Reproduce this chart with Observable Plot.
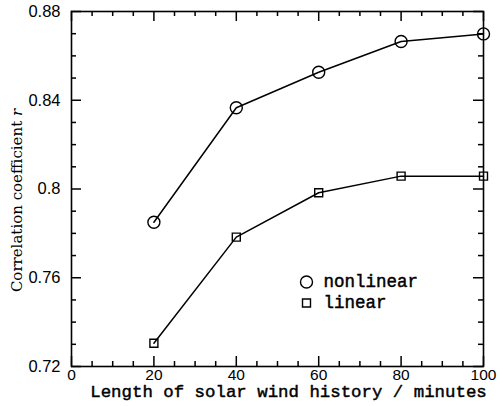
<!DOCTYPE html>
<html>
<head>
<meta charset="utf-8">
<style>
  html, body { margin: 0; padding: 0; background: #fff; }
  #chart svg { display: block; }
</style>
<script src="https://cdn.jsdelivr.net/npm/d3@7"></script>
<script src="https://cdn.jsdelivr.net/npm/@observablehq/plot@0.6"></script>
</head>
<body>
<div id="chart"></div>
<script>
// ---- data ----
const historyMinutes = [20, 40, 60, 80, 100];
const nonlinearR = [0.785, 0.8366, 0.8526, 0.8665, 0.8699];
const linearR = [0.7305, 0.7783, 0.7983, 0.8058, 0.8058];
const seriesNames = ["nonlinear", "linear"];
const xTicks = [0, 20, 40, 60, 80, 100];
const xMinorTicks = [5, 10, 15, 25, 30, 35, 45, 50, 55, 65, 70, 75, 85, 90, 95];
const yTicks = [0.72, 0.76, 0.80, 0.84, 0.88];
const yTickLabels = ["0.72", "0.76", "0.8", "0.84", "0.88"];
const yMinorTicks = [0.73, 0.74, 0.75, 0.77, 0.78, 0.79, 0.81, 0.82, 0.83, 0.85, 0.86, 0.87];
const xTitle = "Length of solar wind history / minutes";
const yTitle = "Correlation coefficient";
const yTitleVar = "r";

// ---- layout ----
const W = 500, H = 406;
const mL = 71, mR = 17, mT = 11, mB = 40;
const fw = W - mL - mR, fh = H - mT - mB;
const major = 10, minor = 5;
const mono = "'Liberation Mono', 'DejaVu Sans Mono', monospace";
const monoText = {fontFamily: mono, fontSize: 17.5, fill: "black", stroke: "black", strokeWidth: 0.45};

const nonRows = historyMinutes.map((m, i) => ({minutes: m, r: nonlinearR[i], series: seriesNames[0]}));
const linRows = historyMinutes.map((m, i) => ({minutes: m, r: linearR[i], series: seriesNames[1]}));
const rows = nonRows.concat(linRows);

const tickStyle = {stroke: "black", strokeWidth: 1.5};

const chart = Plot.plot({
  width: W, height: H,
  marginLeft: mL, marginRight: mR, marginTop: mT, marginBottom: mB,
  style: {fontFamily: "'Liberation Sans', Arial, sans-serif", fontSize: "16px", background: "white", color: "black"},
  x: {domain: [0, 100]},
  y: {domain: [0.72, 0.88]},
  marks: [
    Plot.axisX({ticks: xTicks, tickSize: 0, tickPadding: 2.5, label: null, fontSize: 15.5, tickFormat: d => String(d)}),
    Plot.axisY({ticks: yTicks, tickSize: 0, tickPadding: 11, label: null, fontSize: 16.5,
      tickFormat: d => yTickLabels[yTicks.findIndex(v => Math.abs(v - d) < 1e-9)]}),
    // inward ticks on all four sides
    Plot.ruleX(xTicks, {x: d => d, insetTop: fh - major, ...tickStyle}),
    Plot.ruleX(xMinorTicks, {x: d => d, insetTop: fh - minor, ...tickStyle}),
    Plot.ruleX(xTicks, {x: d => d, insetBottom: fh - major, ...tickStyle}),
    Plot.ruleX(xMinorTicks, {x: d => d, insetBottom: fh - minor, ...tickStyle}),
    Plot.ruleY(yTicks, {y: d => d, insetRight: fw - major, ...tickStyle}),
    Plot.ruleY(yMinorTicks, {y: d => d, insetRight: fw - minor, ...tickStyle}),
    Plot.ruleY(yTicks, {y: d => d, insetLeft: fw - major, ...tickStyle}),
    Plot.ruleY(yMinorTicks, {y: d => d, insetLeft: fw - minor, ...tickStyle}),
    Plot.frame({stroke: "black", strokeWidth: 1.6}),
    // data
    Plot.line(rows, {x: "minutes", y: "r", z: "series", stroke: "black", strokeWidth: 1.5}),
    Plot.dot(nonRows, {x: "minutes", y: "r", symbol: "circle", r: 6, stroke: "black", strokeWidth: 1.4, fill: "none"}),
    Plot.dot(linRows, {x: "minutes", y: "r", symbol: "square", r: 4.5, stroke: "black", strokeWidth: 1.4, fill: "none"}),
    // legend
    Plot.dot([seriesNames[0]], {frameAnchor: "bottom-left", dx: 235, dy: -84.5, symbol: "circle", r: 6, stroke: "black", strokeWidth: 1.4, fill: "none"}),
    Plot.dot([seriesNames[1]], {frameAnchor: "bottom-left", dx: 235, dy: -63.5, symbol: "square", r: 4.5, stroke: "black", strokeWidth: 1.4, fill: "none"}),
    Plot.text([seriesNames[0]], {frameAnchor: "bottom-left", dx: 252, dy: -85, text: d => d, textAnchor: "start", lineAnchor: "middle", ...monoText}),
    Plot.text([seriesNames[1]], {frameAnchor: "bottom-left", dx: 252, dy: -64, text: d => d, textAnchor: "start", lineAnchor: "middle", ...monoText}),
    // axis titles
    Plot.text([xTitle], {frameAnchor: "bottom", dx: 11, dy: 25, text: d => d, textAnchor: "middle", lineAnchor: "middle", ...monoText, fontSize: 17.4}),
    Plot.text([yTitle + " " + yTitleVar], {frameAnchor: "left", dx: -54, dy: 11.5, rotate: -90, text: d => d, textAnchor: "middle", lineAnchor: "middle", fontFamily: "'DejaVu Serif', serif", fontSize: 15, fill: "black"})
  ]
});

document.getElementById("chart").appendChild(chart);

// italic variable "r" in the y title
d3.select(chart).selectAll("text").filter(function() {
  return this.textContent === yTitle + " " + yTitleVar;
}).each(function() {
  const t = d3.select(this);
  t.attr("xml:space", "preserve").style("white-space", "pre");
  t.text(yTitle + " ");
  t.append("tspan").attr("font-style", "italic").attr("font-family", "'DejaVu Serif', serif").text(yTitleVar);
});
</script>
</body>
</html>
